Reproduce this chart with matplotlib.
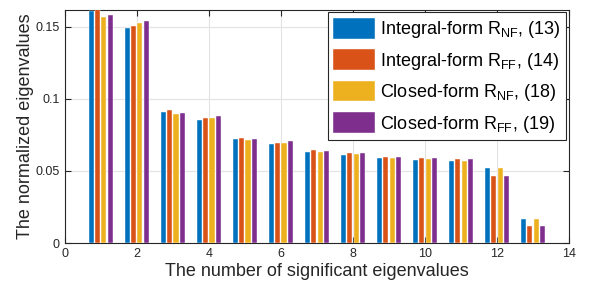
import numpy as np
import matplotlib.pyplot as plt

plt.rcParams['font.family'] = ['Liberation Sans', 'DejaVu Sans']
plt.rcParams['mathtext.fontset'] = 'custom'
plt.rcParams['mathtext.rm'] = 'Liberation Sans'

# eigenvalue index
idx = np.arange(1, 14)

# normalized eigenvalues
int_nf = [0.161, 0.1491, 0.0912, 0.0854, 0.0722, 0.0688, 0.0634, 0.0613, 0.0592, 0.0578, 0.0572, 0.0519, 0.0164]
int_ff = [0.166, 0.1507, 0.0924, 0.0866, 0.0731, 0.0697, 0.0644, 0.0625, 0.0599, 0.0588, 0.0581, 0.0468, 0.0120]
cls_nf = [0.157, 0.1528, 0.0894, 0.0870, 0.0715, 0.0697, 0.0632, 0.0620, 0.0592, 0.0581, 0.0572, 0.0521, 0.0164]
cls_ff = [0.158, 0.1544, 0.0903, 0.0882, 0.0722, 0.0706, 0.0641, 0.0627, 0.0599, 0.0590, 0.0583, 0.0468, 0.0121]

labels = ['Integral-form R$_{\\mathrm{NF}}$, (13)',
          'Integral-form R$_{\\mathrm{FF}}$, (14)',
          'Closed-form R$_{\\mathrm{NF}}$, (18)',
          'Closed-form R$_{\\mathrm{FF}}$, (19)']
colors = ['#0072BD', '#D95319', '#EDB120', '#7E2F8E']

fig = plt.figure(figsize=(5.89, 2.9), dpi=100)
ax = fig.add_axes([0.110, 0.162, 0.856, 0.805])

pitch = 0.175
w = 0.14
for k, (vals, c, lab) in enumerate(zip([int_nf, int_ff, cls_nf, cls_ff], colors, labels)):
    ax.bar(idx + (k - 1.5) * pitch, vals, width=w, color=c, label=lab,
           edgecolor='white', linewidth=0.3, zorder=3)

ax.set_xlim(0, 14)
ax.set_ylim(0, 0.162)
ax.set_xticks(range(0, 15, 2))
ax.set_yticks([0, 0.05, 0.1, 0.15])
ax.set_yticklabels(['0', '0.05', '0.1', '0.15'])
ax.grid(True, color='#e3e3e3', linewidth=0.8, zorder=0)
ax.tick_params(direction='in', top=True, right=True, labelsize=9, length=4,
               color='#262626', labelcolor='#262626')
for s in ax.spines.values():
    s.set_color('#262626')
    s.set_linewidth(0.8)

ax.set_xlabel('The number of significant eigenvalues', fontsize=13, labelpad=2.5, color='#262626')
ax.set_ylabel('The normalized eigenvalues', fontsize=13, labelpad=1.5, color='#262626')

leg = ax.legend(loc='upper right', fontsize=13, fancybox=False, framealpha=1,
                edgecolor='#262626', borderaxespad=0.15, handlelength=2.3,
                handleheight=1.4, handletextpad=0.3, labelspacing=0.5, borderpad=0.3)
leg.get_frame().set_linewidth(0.8)

fig.savefig('out.png', dpi=100)
